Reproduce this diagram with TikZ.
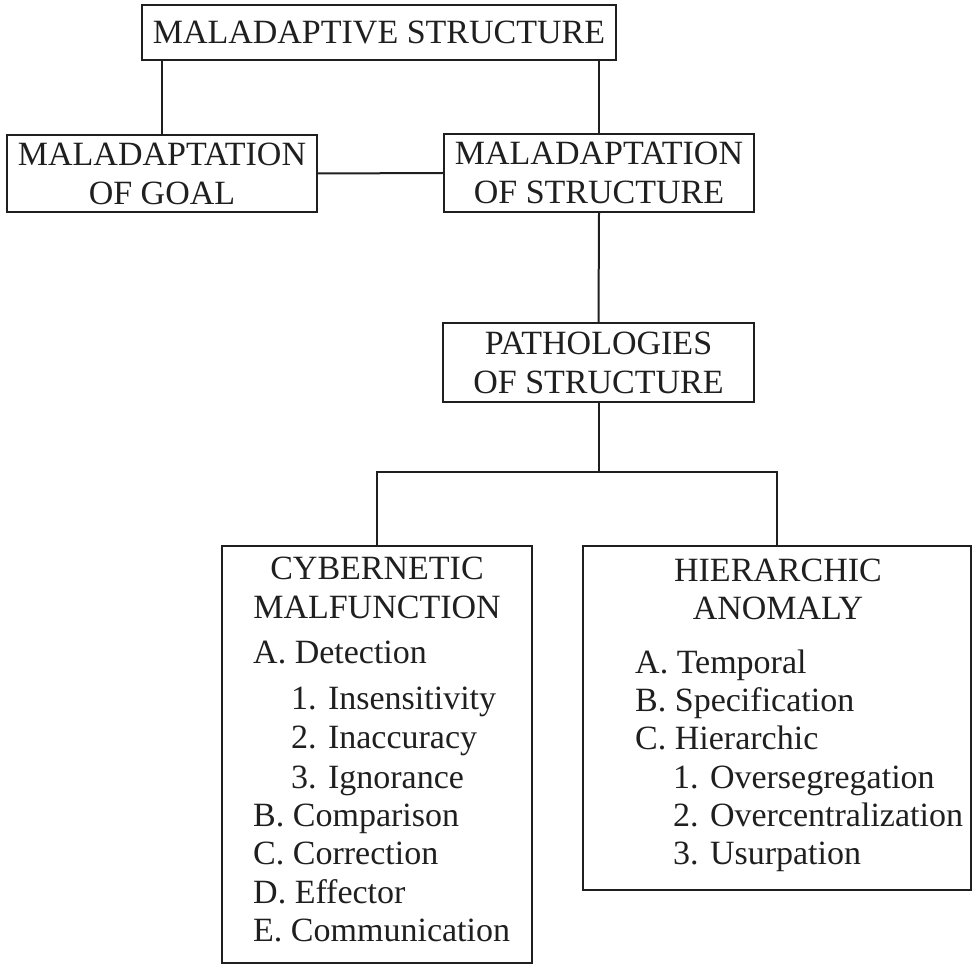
\documentclass[tikz,border=0pt]{standalone}
\usepackage{fontspec}
\setmainfont{Liberation Serif}
\begin{document}
\begin{tikzpicture}[x=1pt,y=-1pt,
  box/.style={draw=black!88, line width=2pt, inner sep=0pt, align=center,
    font=\fontsize{34}{39}\selectfont, text=black!88},
  conn/.style={draw=black!88, line width=2pt},
  txt/.style={font=\fontsize{34}{39}\selectfont, inner sep=0pt, text=black!88}]
\useasboundingbox (0,0) rectangle (977,965);

% upper boxes
\node[box, minimum width=474pt, minimum height=55pt] (top) at (379,32.5) {MALADAPTIVE STRUCTURE};
\node[box, minimum width=310pt, minimum height=77pt] (goal) at (162,173.5) {MALADAPTATION\\OF GOAL};
\node[box, minimum width=310pt, minimum height=78pt] (struct) at (599,173) {MALADAPTATION\\OF STRUCTURE};
\node[box, minimum width=311pt, minimum height=79pt] (path) at (598.5,362.5) {PATHOLOGIES\\OF STRUCTURE};

% lower boxes
\node[box, minimum width=310pt, minimum height=417pt] (cyb) at (377,754.5) {};
\node[box, minimum width=388pt, minimum height=344pt] (hier) at (777,718) {};

% connectors
\draw[conn] (top.south -| goal.north) -- (goal.north);
\draw[conn] (top.south -| struct.north) -- (struct.north);
\draw[conn] (goal.east) -- (struct.west);
\draw[conn] (struct.south) -- (path.north);
\coordinate (junc) at (598.5,472);
\draw[conn] (path.south) -- (junc);
\draw[conn] (cyb.north) |- (junc);
\draw[conn] (hier.north) |- (junc);

% cybernetic malfunction text
\node[txt, anchor=base] (cybh1) at (377,579) {CYBERNETIC};
\node[txt, anchor=base] (cybh2) at (377,618) {MALFUNCTION};
\node[txt, anchor=base west] (cA) at (253,663) {A. Detection};
\node[txt, anchor=base west] (cA1) at (291,709) {1. Insensitivity};
\node[txt, anchor=base west] (cA2) at (291,748) {2. Inaccuracy};
\node[txt, anchor=base west] (cA3) at (291,788) {3. Ignorance};
\node[txt, anchor=base west] (cB) at (253,826) {B. Comparison};
\node[txt, anchor=base west] (cC) at (253,864) {C. Correction};
\node[txt, anchor=base west] (cD) at (253,903) {D. Effector};
\node[txt, anchor=base west] (cE) at (253,941) {E. Communication};

% hierarchic anomaly text
\node[txt, anchor=base] (hh1) at (778,581) {HIERARCHIC};
\node[txt, anchor=base] (hh2) at (778,619) {ANOMALY};
\node[txt, anchor=base west] (hA) at (635,673) {A. Temporal};
\node[txt, anchor=base west] (hB) at (635,711) {B. Specification};
\node[txt, anchor=base west] (hC) at (635,749) {C. Hierarchic};
\node[txt, anchor=base west] (hC1) at (673,788) {1. Oversegregation};
\node[txt, anchor=base west] (hC2) at (673,826) {2. Overcentralization};
\node[txt, anchor=base west] (hC3) at (673,864) {3. Usurpation};
\end{tikzpicture}
\end{document}
